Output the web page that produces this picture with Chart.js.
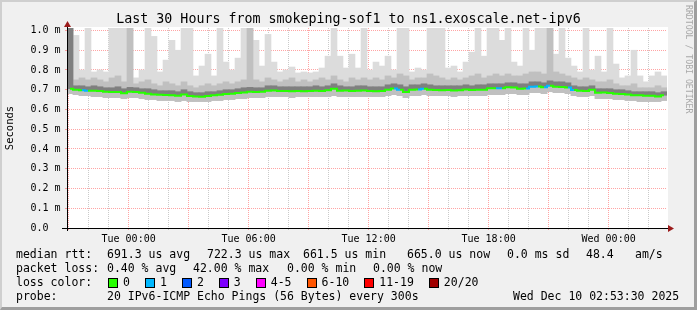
<!DOCTYPE html>
<html lang="en">
<head>
  <meta charset="UTF-8" />
  <title>Last 30 Hours | ns1.exoscale.net-ipv6</title>
  <script src="https://cdn.jsdelivr.net/npm/chart.js"></script>
  <style>
    html, body { margin: 0; padding: 0; background: #f0f0f0; }
    #frame { position: relative; width: 697px; height: 310px; overflow: hidden;
      font-family: "DejaVu Sans Mono", monospace; color: #000; }
    #frame canvas { position: absolute; left: 0; top: 0; }
    #shade { position: absolute; left: 0; top: 0; width: 697px; height: 310px; box-sizing: border-box;
      border-style: solid; border-width: 2px 3px 3px 2px;
      border-color: #cfcfcf #9e9e9e #9e9e9e #cfcfcf; pointer-events: none; }
    #title { position: absolute; left: 0; top: 11px; width: 697px; text-align: center;
      font-size: 13.3px; line-height: 16px; white-space: pre; }
    #credit { position: absolute; left: 684px; top: 5px; writing-mode: vertical-rl;
      font-size: 8.2px; line-height: 10px; color: #a8a8a8; white-space: pre; }
    .t { position: absolute; font-size: 11.5px; line-height: 14px; white-space: pre; }
    #lossRow { position: absolute; left: 108px; top: 275px; display: flex; align-items: flex-start;
      font-size: 11.5px; line-height: 14px; white-space: pre; }
    .box { width: 10px; height: 10px; box-sizing: border-box; border: 1px solid #000;
      margin-top: 3px; margin-right: 5px; }
    .lbl { margin-right: 15px; }
  </style>
</head>
<body>
  <div id="frame">
    <canvas id="smokeChart" width="697" height="310"></canvas>
    <div id="title">Last 30 Hours from smokeping-sof1 to ns1.exoscale.net-ipv6</div>
    <div id="credit">RRDTOOL / TOBI OETIKER</div>

    <span class="t" style="left:16px;top:247px">median rtt:</span>
    <span class="t" style="left:107px;top:247px">691.3 us avg</span>
    <span class="t" style="left:207px;top:247px">722.3 us max</span>
    <span class="t" style="left:303px;top:247px">661.5 us min</span>
    <span class="t" style="left:407px;top:247px">665.0 us now</span>
    <span class="t" style="left:507px;top:247px">0.0 ms sd</span>
    <span class="t" style="left:586px;top:247px">48.4</span>
    <span class="t" style="left:635px;top:247px">am/s</span>

    <span class="t" style="left:16px;top:261px">packet loss:</span>
    <span class="t" style="left:107px;top:261px">0.40 % avg</span>
    <span class="t" style="left:193px;top:261px">42.00 % max</span>
    <span class="t" style="left:287px;top:261px">0.00 % min</span>
    <span class="t" style="left:373px;top:261px">0.00 % now</span>

    <span class="t" style="left:16px;top:275px">loss color:</span>
    <div id="lossRow"></div>

    <span class="t" style="left:16px;top:289px">probe:</span>
    <span class="t" style="left:107px;top:289px">20 IPv6-ICMP Echo Pings (56 Bytes) every 300s</span>
    <span class="t" style="left:513px;top:289px">Wed Dec 10 02:53:30 2025</span>

    <div id="shade"></div>
  </div>

  <script>
    // time axis in hours, 0 = Tue 00:00; one bin = 18 minutes
    const hourStart = -3.08;
    const hourSpan = 30;
    const binHours = 0.3;

    // median rtt per bin (ms)
    const median = [
      0.705, 0.700, 0.697, 0.695, 0.695, 0.693, 0.690, 0.688, 0.688, 0.682,
      0.690, 0.689, 0.685, 0.680, 0.676, 0.675, 0.673, 0.672, 0.670, 0.676,
      0.668, 0.666, 0.665, 0.668, 0.672, 0.674, 0.679, 0.680, 0.684, 0.686,
      0.690, 0.689, 0.690, 0.695, 0.696, 0.694, 0.693, 0.692, 0.693, 0.692,
      0.694, 0.695, 0.693, 0.697, 0.705, 0.695, 0.696, 0.694, 0.695, 0.696,
      0.693, 0.692, 0.693, 0.700, 0.706, 0.700, 0.688, 0.700, 0.701, 0.705,
      0.700, 0.699, 0.697, 0.698, 0.696, 0.697, 0.701, 0.699, 0.700, 0.700,
      0.708, 0.707, 0.708, 0.712, 0.711, 0.705, 0.706, 0.715, 0.716, 0.712,
      0.720, 0.715, 0.714, 0.711, 0.698, 0.695, 0.694, 0.700, 0.685, 0.686,
      0.684, 0.680, 0.679, 0.676, 0.672, 0.672, 0.670, 0.669, 0.666, 0.672
    ];
    // lowest ping per bin
    const rttMin = [
      0.680, 0.675, 0.670, 0.670, 0.665, 0.665, 0.660, 0.660, 0.660, 0.655,
      0.660, 0.660, 0.655, 0.650, 0.650, 0.645, 0.645, 0.645, 0.640, 0.645,
      0.640, 0.640, 0.640, 0.640, 0.645, 0.645, 0.650, 0.650, 0.655, 0.655,
      0.660, 0.660, 0.660, 0.665, 0.665, 0.665, 0.665, 0.660, 0.665, 0.665,
      0.665, 0.665, 0.665, 0.665, 0.670, 0.665, 0.665, 0.665, 0.665, 0.665,
      0.665, 0.665, 0.665, 0.670, 0.675, 0.670, 0.660, 0.670, 0.670, 0.675,
      0.670, 0.670, 0.670, 0.670, 0.665, 0.670, 0.670, 0.670, 0.670, 0.670,
      0.675, 0.675, 0.675, 0.680, 0.680, 0.675, 0.675, 0.685, 0.685, 0.680,
      0.690, 0.685, 0.685, 0.680, 0.670, 0.665, 0.665, 0.670, 0.655, 0.655,
      0.655, 0.650, 0.650, 0.645, 0.645, 0.640, 0.640, 0.640, 0.640, 0.645
    ];
    // top of the dense (dark) smoke
    const rttDark = [
      1.030, 0.720, 0.720, 0.715, 0.720, 0.715, 0.710, 0.710, 0.715, 0.705,
      0.712, 0.710, 0.705, 0.705, 0.700, 0.695, 0.695, 0.695, 0.690, 0.700,
      0.690, 0.685, 0.685, 0.690, 0.690, 0.695, 0.700, 0.700, 0.705, 0.710,
      0.712, 0.710, 0.710, 0.720, 0.720, 0.715, 0.715, 0.715, 0.715, 0.715,
      0.715, 0.720, 0.715, 0.720, 0.730, 0.720, 0.715, 0.715, 0.720, 0.720,
      0.715, 0.715, 0.715, 0.725, 0.730, 0.725, 0.715, 0.725, 0.725, 0.730,
      0.725, 0.720, 0.720, 0.720, 0.720, 0.720, 0.725, 0.720, 0.725, 0.725,
      0.730, 0.730, 0.730, 0.735, 0.735, 0.730, 0.730, 0.740, 0.740, 0.735,
      0.745, 0.740, 0.740, 0.735, 0.720, 0.715, 0.715, 0.720, 0.705, 0.705,
      0.705, 0.700, 0.700, 0.695, 0.690, 0.690, 0.690, 0.690, 0.685, 0.690
    ];
    // top of the medium smoke
    const rttMid = [
      1.030, 0.750, 0.760, 0.750, 0.760, 0.750, 0.740, 0.760, 0.770, 0.740,
      1.020, 0.730, 0.740, 0.750, 0.730, 0.720, 0.740, 0.730, 0.720, 0.740,
      0.720, 0.710, 0.720, 0.730, 0.720, 0.730, 0.740, 0.730, 0.740, 0.750,
      1.020, 0.750, 0.740, 0.760, 0.750, 0.740, 0.750, 0.760, 0.740, 0.750,
      0.740, 0.750, 0.760, 0.750, 0.770, 0.750, 0.740, 0.760, 0.750, 0.760,
      0.750, 0.760, 0.750, 0.770, 0.760, 0.780, 0.770, 0.750, 0.760, 0.760,
      0.780, 0.770, 0.760, 0.750, 0.760, 0.750, 0.760, 0.770, 0.780, 0.760,
      0.770, 0.780, 0.770, 0.780, 0.770, 0.770, 0.780, 0.790, 0.790, 0.780,
      1.020, 0.790, 0.780, 0.770, 0.760, 0.750, 0.760, 0.750, 0.740, 0.740,
      0.750, 0.730, 0.720, 0.720, 0.730, 0.710, 0.710, 0.710, 0.720, 0.710
    ];
    // highest ping per bin
    const rttMax = [
      1.030, 0.975, 0.800, 1.020, 0.790, 0.800, 0.790, 1.020, 1.020, 1.020,
      1.020, 0.760, 0.800, 1.020, 0.970, 0.790, 0.850, 0.950, 0.900, 1.020,
      1.020, 0.770, 0.820, 0.880, 0.770, 1.020, 0.840, 0.800, 0.860, 1.020,
      1.020, 0.950, 0.820, 0.980, 0.840, 0.790, 0.800, 0.815, 0.785, 0.790,
      0.785, 0.790, 0.810, 0.870, 1.020, 0.870, 0.810, 0.880, 0.810, 1.020,
      0.800, 0.840, 0.820, 0.870, 0.800, 1.020, 1.020, 0.790, 0.810, 0.800,
      1.020, 1.020, 1.020, 0.810, 0.820, 0.790, 0.840, 0.890, 1.020, 0.870,
      1.020, 1.020, 0.950, 1.020, 0.840, 0.820, 1.020, 0.900, 1.020, 1.020,
      1.020, 0.880, 1.020, 0.860, 0.820, 0.790, 1.020, 0.800, 0.870, 0.790,
      1.020, 0.830, 0.760, 0.770, 0.900, 0.770, 0.740, 0.770, 0.790, 0.770
    ];
    // lost pings (of 20) per bin
    const lossCount = [
      8, 0, 0, 1, 0, 0, 0, 0, 0, 0,
      0, 0, 0, 0, 0, 0, 0, 0, 0, 0,
      0, 0, 0, 0, 0, 0, 0, 0, 0, 0,
      0, 0, 0, 0, 0, 0, 0, 0, 0, 0,
      0, 0, 0, 0, 0, 0, 0, 0, 0, 0,
      0, 0, 0, 0, 0, 1, 0, 0, 0, 1,
      0, 0, 0, 0, 0, 0, 0, 0, 0, 0,
      0, 0, 1, 0, 0, 0, 0, 1, 1, 0,
      1, 0, 0, 0, 1, 0, 0, 0, 0, 0,
      0, 0, 0, 0, 0, 0, 0, 0, 0, 0
    ];

    const lossLabels = ['0', '1', '2', '3', '4-5', '6-10', '11-19', '20/20'];
    const lossLimits = [0, 1, 2, 3, 5, 10, 19, 20];
    const lossColors = ['#26ff00', '#00b8ff', '#0059ff', '#7e00ff', '#ff00ff', '#ff5500', '#ff0000', '#a10000'];

    const yTicks = [0, 0.1, 0.2, 0.3, 0.4, 0.5, 0.6, 0.7, 0.8, 0.9, 1.0];
    const yTickLabels = ['0.0  ', '0.1 m', '0.2 m', '0.3 m', '0.4 m', '0.5 m', '0.6 m', '0.7 m', '0.8 m', '0.9 m', '1.0 m'];
    const xTickHours = [0, 6, 12, 18, 24];
    const xTickLabels = ['Tue 00:00', 'Tue 06:00', 'Tue 12:00', 'Tue 18:00', 'Wed 00:00'];

    // legend boxes
    const row = document.getElementById('lossRow');
    lossLabels.forEach((l, i) => {
      const b = document.createElement('span');
      b.className = 'box';
      b.style.background = lossColors[i];
      const s = document.createElement('span');
      s.className = 'lbl';
      s.textContent = l;
      row.appendChild(b);
      row.appendChild(s);
    });

    function lossColor(n) {
      const k = lossLimits.findIndex(lim => n <= lim);
      return lossColors[k < 0 ? lossColors.length - 1 : k];
    }

    const binX = i => hourStart + binHours * (i + 0.5);

    function band(label, lo, hi, color, order) {
      return {
        type: 'bar',
        label,
        order,
        data: median.map((_, i) => ({ x: binX(i), y: [lo[i], hi[i]] })),
        backgroundColor: color,
        borderWidth: 0,
        barPercentage: 1,
        categoryPercentage: 1,
        grouped: false
      };
    }

    const MGRID = 'rgba(255, 90, 90, 0.55)';
    const GRID = 'rgba(150, 150, 150, 0.5)';

    const canvasBack = {
      id: 'canvasBack',
      beforeDraw(chart) {
        const { ctx, chartArea: a } = chart;
        ctx.save();
        ctx.fillStyle = '#ffffff';
        ctx.fillRect(a.left, a.top - 1, a.width + 1, a.bottom - a.top + 1);
        ctx.restore();
      }
    };

    const axisArrows = {
      id: 'axisArrows',
      afterDraw(chart) {
        const { ctx, chartArea: a } = chart;
        const x0 = a.left + 0.5, y0 = a.bottom + 0.5;
        ctx.save();
        ctx.strokeStyle = '#000';
        ctx.lineWidth = 1;
        ctx.beginPath();
        ctx.moveTo(a.left - 5, y0); ctx.lineTo(a.right + 1, y0);
        ctx.moveTo(x0, a.bottom + 3); ctx.lineTo(x0, a.top - 2);
        ctx.stroke();
        ctx.fillStyle = '#9b1b1b';
        ctx.beginPath();
        ctx.moveTo(a.right + 7, y0); ctx.lineTo(a.right + 1, y0 - 3.5); ctx.lineTo(a.right + 1, y0 + 3.5);
        ctx.closePath(); ctx.fill();
        ctx.beginPath();
        ctx.moveTo(x0, a.top - 7); ctx.lineTo(x0 - 3.5, a.top - 1); ctx.lineTo(x0 + 3.5, a.top - 1);
        ctx.closePath(); ctx.fill();
        ctx.restore();
      }
    };

    Chart.defaults.font.family = '"DejaVu Sans Mono", monospace';
    Chart.defaults.color = '#000';

    new Chart(document.getElementById('smokeChart'), {
      type: 'bar',
      data: {
        datasets: [
          {
            type: 'line',
            label: 'median rtt',
            order: 0,
            data: median.map((v, i) => ({ x: binX(i), y: v })),
            borderColor: lossColors[0],
            borderWidth: 2,
            pointRadius: 0,
            stepped: 'middle',
            segment: { borderColor: c => lossColor(lossCount[c.p1DataIndex]) }
          },
          band('dark smoke', median, rttDark, '#7f7f7f', 1),
          band('mid smoke', rttMin, rttMid, '#c0c0c0', 2),
          band('light smoke', rttMin, rttMax, '#dcdcdc', 3)
        ]
      },
      options: {
        responsive: false,
        animation: false,
        layout: { padding: { top: 28, right: 30, left: 0, bottom: 0 } },
        plugins: { legend: { display: false }, tooltip: { enabled: false }, title: { display: false } },
        scales: {
          x: {
            type: 'linear',
            bounds: 'data',
            offset: false,
            min: hourStart,
            max: hourStart + hourSpan,
            z: 1,
            afterBuildTicks: s => {
              const t = [];
              for (let h = Math.ceil(hourStart); h <= hourStart + hourSpan; h++) t.push({ value: h });
              s.ticks = t;
            },
            afterFit: s => { s.height = 82; },
            grid: {
              offset: false,
              color: c => (c.tick && c.tick.value % 3 === 0 ? MGRID : GRID),
              tickLength: 2,
              lineWidth: 1
            },
            border: { display: false, dash: [1, 1] },
            ticks: {
              autoSkip: false,
              maxRotation: 0,
              minRotation: 0,
              padding: 3,
              font: { size: 10 },
              callback: v => {
                const k = xTickHours.indexOf(v);
                return k >= 0 ? xTickLabels[k] : '';
              }
            }
          },
          y: {
            type: 'linear',
            bounds: 'data',
            min: 0,
            max: 1.0125,
            z: 1,
            afterBuildTicks: s => { s.ticks = yTicks.map(v => ({ value: v })); },
            afterFit: s => { s.width = 67; },
            grid: { color: MGRID, tickLength: 2, lineWidth: 1 },
            border: { display: false, dash: [1, 1] },
            title: { display: true, text: 'Seconds', font: { size: 10.5 }, padding: { top: 4, bottom: 0 } },
            ticks: {
              padding: 4.5,
              font: { size: 10 },
              callback: v => {
                const k = yTicks.findIndex(t => Math.abs(t - v) < 1e-6);
                return k >= 0 ? yTickLabels[k] : '';
              }
            }
          }
        }
      },
      plugins: [canvasBack, axisArrows]
    });
  </script>
</body>
</html>
